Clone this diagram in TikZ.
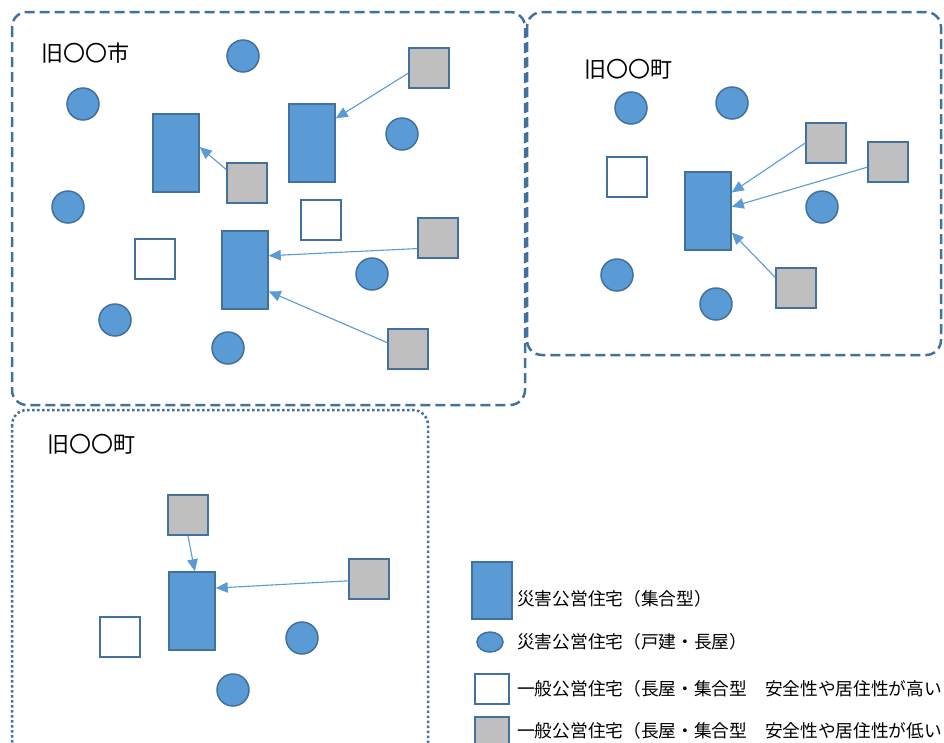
\documentclass[tikz,border=0pt]{standalone}
\usepackage{fontspec}
\setmainfont{Noto Sans CJK JP}
\usetikzlibrary{arrows.meta,shapes.geometric}
\definecolor{areaedge}{HTML}{41719C}
\definecolor{housefill}{HTML}{5B9BD5}
\definecolor{lowfill}{HTML}{BFBFBF}
\definecolor{linkline}{HTML}{5B9BD5}
\begin{document}
\begin{tikzpicture}[x=1pt, y=-1pt,
  area/.style={draw=areaedge, line width=2.5pt, rounded corners=15pt, dash pattern=on 10pt off 5pt},
  areadot/.style={draw=areaedge, line width=2.5pt, rounded corners=15pt, dash pattern=on 2.5pt off 2.5pt},
  tower/.style={rectangle, draw=areaedge, fill=housefill, line width=1.5pt, minimum width=46pt, minimum height=78pt, inner sep=0pt},
  house/.style={circle, draw=areaedge, fill=housefill, line width=1.5pt, minimum size=32pt, inner sep=0pt},
  safe/.style={rectangle, draw=areaedge, fill=white, line width=1.5pt, minimum size=40pt, inner sep=0pt},
  unsafe/.style={safe, fill=lowfill},
  move/.style={draw=linkline, line width=1.1pt, -{Triangle[length=12pt,width=10.5pt]}},
  title/.style={font=\fontsize{22}{26}\selectfont, anchor=base west, inner sep=0pt},
  legendtext/.style={font=\fontsize{17.7}{20}\selectfont, anchor=base west, inner sep=0pt}]

\useasboundingbox (0,0) rectangle (944,742);
\fill[white] (0,0) rectangle (944,742);
\clip (0,0) rectangle (944,742);

% district outlines
\draw[area] (12,12) rectangle (525,405);
\draw[area] (527,12) rectangle (941,355);
\draw[areadot] (12,410) rectangle (428,770);

% ---- former city ----
\node[title] (t1) at (41,61.5) {旧〇〇市};
\node[house] (a1) at (243,56) {};
\node[house] (a2) at (83,104) {};
\node[house] (a3) at (402,134) {};
\node[house] (a4) at (68,207) {};
\node[house] (a5) at (372,274) {};
\node[house] (a6) at (115,320) {};
\node[house] (a7) at (228,348) {};
\node[tower] (r1) at (176,153) {};
\node[tower] (r2) at (312,143) {};
\node[tower] (r3) at (245,270) {};
\node[safe] (w1) at (321,220) {};
\node[safe] (w2) at (155,259) {};
\node[unsafe] (g1) at (429,68) {};
\node[unsafe] (g2) at (247,183) {};
\node[unsafe] (g3) at (438,238) {};
\node[unsafe] (g4) at (408,349) {};
\draw[move] (g1.194) -- (r2.46);
\draw[move] (g2.147) -- (r1.14);
\draw[move] (g3.207) -- (r3.31);
\draw[move] (g4.163) -- (r3.-42);

% ---- former town (right) ----
\node[title] (t2) at (584,77.5) {旧〇〇町};
\node[house] (b1) at (631,108) {};
\node[house] (b2) at (732,103) {};
\node[house] (b3) at (822,207) {};
\node[house] (b4) at (617,275) {};
\node[house] (b5) at (716,304) {};
\node[tower] (rb) at (708,211) {};
\node[safe] (wb) at (627,177) {};
\node[unsafe] (ga) at (826,143) {};
\node[unsafe] (gb) at (888,162) {};
\node[unsafe] (gc) at (796,288) {};
\draw[move] (ga.180) -- (rb.38);
\draw[move] (gb.194) -- (rb.10);
\draw[move] (gc.153) -- (rb.-42);

% ---- former town (lower) ----
\node[title] (t3) at (47,452.5) {旧〇〇町};
\node[house] (c1) at (302,638) {};
\node[house] (c2) at (233,690) {};
\node[tower] (rc) at (192,611) {};
\node[safe] (wc) at (120,637) {};
\node[unsafe] (gt) at (188,515) {};
\node[unsafe] (gr) at (369,579) {};
\draw[move] (gt.270) -- (rc.86);
\draw[move] (gr.185) -- (rc.44);

% ---- legend ----
\node[tower, minimum width=40pt, minimum height=57pt] (k1) at (492,590.5) {};
\node[legendtext] (k1t) at (517,605) {災害公営住宅（集合型）};
\node[house, ellipse, minimum width=26pt, minimum height=20pt] (k2) at (490,642) {};
\node[legendtext] (k2t) at (517,648.5) {災害公営住宅（戸建・長屋）};
\node[safe, minimum width=34pt, minimum height=30pt] (k3) at (492,689) {};
\node[legendtext] (k3t) at (517,695.5) {一般公営住宅（長屋・集合型　安全性や居住性が高い};
\node[unsafe, minimum width=34pt, minimum height=30pt] (k4) at (492,732) {};
\node[legendtext] (k4t) at (517,737) {一般公営住宅（長屋・集合型　安全性や居住性が低い};
\end{tikzpicture}
\end{document}
